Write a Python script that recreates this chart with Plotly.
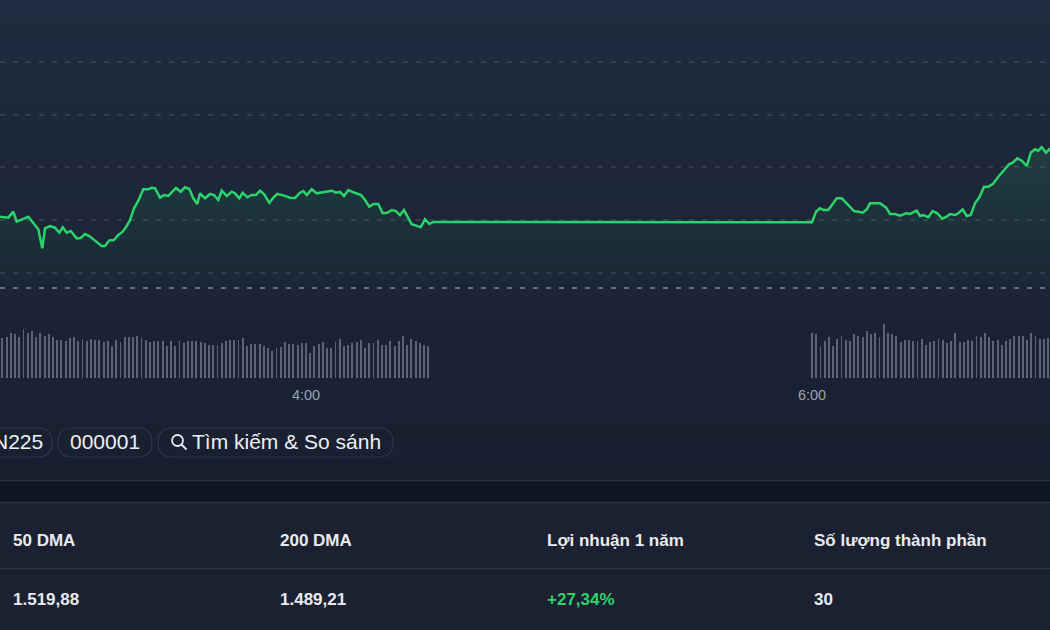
import plotly.graph_objects as go
import pandas as pd

DAY = "2024-06-14 "

# ---- price line (time, index level) ----
morning_times = ["02:47:26","02:49:24","02:50:35","02:51:24","02:54:09","02:56:31","02:57:28","02:58:07","02:59:17","03:00:29",
    "03:01:30","03:02:19","03:03:15","03:04:12","03:05:37","03:06:34","03:07:35","03:08:37","03:09:58","03:11:33",
    "03:12:20","03:13:21","03:14:28","03:15:29","03:16:32","03:17:29","03:18:16","03:19:13","03:20:14","03:21:25",
    "03:22:36","03:23:25","03:24:11","03:25:23","03:26:20","03:27:21","03:29:10","03:30:17","03:31:19","03:32:20",
    "03:33:16","03:34:13","03:34:52","03:36:03","03:37:14","03:38:11","03:39:12","03:40:01","03:41:12","03:42:23",
    "03:43:10","03:44:11","03:44:59","03:46:05","03:47:07","03:48:08","03:49:05","03:50:02","03:51:18","03:52:15",
    "03:53:11","03:54:37","03:56:13","03:57:23","03:58:35","03:59:22","04:00:10","04:01:21","04:02:32","04:03:43",
    "04:04:55","04:06:05","04:07:07","04:08:04","04:09:01","04:10:02","04:11:13","04:13:03","04:14:00","04:15:01",
    "04:15:58","04:17:09","04:18:12","04:19:17","04:20:19","04:21:20","04:22:17","04:23:14","04:25:04","04:27:12",
    "04:28:13","04:29:14","04:30:11"]
morning_prices = [1505.32,1505.23,1505.80,1504.85,1505.32,1504.13,1502.32,1504.22,1504.44,1504.28,
    1503.80,1504.32,1503.80,1503.97,1503.27,1503.30,1503.68,1503.49,1503.05,1502.54,
    1502.54,1503.08,1503.11,1503.59,1503.90,1504.44,1505.01,1506.12,1506.84,1507.92,
    1507.92,1508.07,1508.02,1507.13,1507.38,1507.29,1508.05,1507.69,1508.11,1507.95,
    1507.07,1506.53,1507.54,1507.07,1507.48,1507.38,1506.91,1507.79,1507.29,1507.69,
    1507.54,1507.07,1507.60,1507.16,1507.38,1507.38,1507.79,1507.48,1506.65,1507.13,
    1507.48,1507.35,1507.13,1507.10,1507.60,1507.76,1507.38,1507.92,1507.54,1507.60,
    1507.67,1507.79,1507.60,1507.67,1507.29,1507.86,1507.64,1507.38,1506.91,1506.27,
    1506.53,1506.53,1505.65,1505.70,1505.96,1505.86,1505.48,1505.96,1504.60,1504.32,
    1505.08,1504.63,1504.82]

afternoon_times = ["06:00:00","06:00:57","06:01:54","06:02:41","06:03:52","06:05:52","06:07:02","06:07:50","06:09:58","06:10:59",
    "06:12:01","06:12:58","06:13:45","06:16:08","06:17:33","06:18:30","06:19:41","06:20:52","06:22:17","06:23:14",
    "06:24:50","06:25:37","06:26:23","06:27:35","06:28:37","06:29:43","06:30:54","06:31:56","06:32:43","06:33:55",
    "06:34:41","06:35:44","06:36:41","06:37:38","06:38:39","06:39:40","06:40:47","06:41:49","06:42:51","06:44:11",
    "06:45:22","06:46:47","06:47:35","06:48:41","06:49:44","06:50:55","06:51:52","06:52:53","06:53:40","06:54:28",
    "06:55:29","06:56:26"]
afternoon_prices = [1504.80,1505.80,1506.12,1505.96,1505.96,1507.07,1507.07,1506.75,1505.86,1505.80,
    1505.70,1506.02,1506.59,1506.59,1506.21,1505.58,1505.58,1505.42,1505.65,1505.58,
    1505.89,1505.39,1505.48,1505.27,1505.86,1505.65,1505.13,1505.32,1505.58,1505.48,
    1505.65,1506.02,1505.39,1505.48,1506.59,1507.16,1508.17,1508.17,1508.43,1509.12,
    1509.69,1510.32,1510.45,1510.86,1510.64,1510.13,1511.39,1511.72,1511.58,1511.91,
    1511.39,1511.81]

previous_close = 1498.55

# ---- volume (thousand shares, one bar per minute) ----
vol_morning_start = "02:48"
vol_morning = [400,410,450,440,410,490,450,473,410,450,417,440,410,383,383,373,400,410,367,390,
    373,393,383,383,360,367,317,383,357,410,410,410,423,400,383,357,373,373,373,323,
    367,323,367,350,367,367,367,357,350,333,333,333,350,367,377,377,377,400,323,340,
    343,343,317,300,267,300,307,357,340,340,333,350,350,250,317,340,357,300,300,357,
    390,323,333,350,357,377,300,350,350,383,333,333,367,323,367,423,333,390,367,350,
    333,317]
vol_afternoon_start = "06:00"
vol_afternoon = [450,440,317,367,407,317,393,423,383,367,440,417,410,473,440,450,410,543,450,440,
    417,357,383,383,373,373,393,327,357,367,393,383,350,373,450,357,360,383,367,423,
    410,450,410,373,383,327,367,393,423,423,423,383,450,423,390,390,400]

tick_vals = ["04:00", "06:00"]
tick_text = ["4:00", "6:00"]

# ---- stats table ----
stat_labels = ["50 DMA", "200 DMA", "Lợi nhuận 1 năm", "Số lượng thành phần"]
stat_values = ["1.519,88", "1.489,21", "+27,34%", "30"]
pill_labels = ["N225", "000001", "Tìm kiếm & So sánh"]

W, H = 1050, 630
def px(x): return x / W
def py(y): return 1 - y / H

line_x = [DAY + t for t in morning_times + afternoon_times]
line_y = morning_prices + afternoon_prices
vol_x = list(pd.date_range(DAY + vol_morning_start, periods=len(vol_morning), freq="1min")) + \
        list(pd.date_range(DAY + vol_afternoon_start, periods=len(vol_afternoon), freq="1min"))
vol_y = vol_morning + vol_afternoon

fig = go.Figure()
fig.add_trace(go.Scatter(
    x=line_x, y=line_y, mode="lines",
    line=dict(color="#2bd46b", width=2.5),
    fill="tozeroy",
    fillgradient=dict(type="vertical",
                      colorscale=[[0, "rgba(43,212,107,0)"], [1, "rgba(43,212,107,0.13)"]],
                      start=1497.4, stop=1512),
    hoverinfo="skip", yaxis="y", xaxis="x"))
fig.add_trace(go.Bar(
    x=vol_x, y=vol_y, marker=dict(color="#5a6477", line=dict(width=0)),
    width=27000, hoverinfo="skip", yaxis="y2", xaxis="x"))

shapes = []
# background gradient
top = (31, 43, 62); bot = (24, 32, 48)
n = 24
for i in range(n):
    f = i / (n - 1)
    c = tuple(round(top[k] + (bot[k] - top[k]) * f) for k in range(3))
    shapes.append(dict(type="rect", xref="paper", yref="paper", x0=0, x1=1,
                       y0=py(480 * (i + 1) / n), y1=py(480 * i / n),
                       fillcolor="rgb(%d,%d,%d)" % c, line=dict(width=0), layer="below"))
# dark band and table
shapes.append(dict(type="rect", xref="paper", yref="paper", x0=0, x1=1, y0=py(502), y1=py(480),
                   fillcolor="#101623", line=dict(width=0), layer="below"))
shapes.append(dict(type="rect", xref="paper", yref="paper", x0=0, x1=1, y0=0, y1=py(502),
                   fillcolor="#1b2131", line=dict(width=0), layer="below"))
for yy in (480.5, 502.5, 568.5):
    shapes.append(dict(type="line", xref="paper", yref="paper", x0=0, x1=1, y0=py(yy), y1=py(yy),
                       line=dict(color="#2b3445", width=1.5), layer="below"))
# previous close
shapes.append(dict(type="line", xref="paper", yref="y", x0=0, x1=1, y0=previous_close, y1=previous_close,
                   line=dict(color="rgba(150,160,178,0.6)", width=2, dash="5px,8px")))

# pills
def pill(x0, x1, y0, y1):
    r = (y1 - y0) / 2
    pts = [("M", x0 + r, y0), ("L", x1 - r, y0), ("Q", x1, y0, x1, y0 + r), ("Q", x1, y1, x1 - r, y1),
           ("L", x0 + r, y1), ("Q", x0, y1, x0, y0 + r), ("Q", x0, y0, x0 + r, y0)]
    s = ""
    for p in pts:
        cmd = p[0]; coords = p[1:]
        s += cmd + " " + " ".join("%f,%f" % (px(coords[j]), py(coords[j + 1])) for j in range(0, len(coords), 2)) + " "
    return s + "Z"

pill_boxes = [(-17, 52), (58, 152), (158, 393)]
for (a, b) in pill_boxes:
    shapes.append(dict(type="path", xref="paper", yref="paper", path=pill(a, b, 428, 457),
                       line=dict(color="#2d3749", width=1.2), fillcolor="rgba(0,0,0,0)"))
# search icon
shapes.append(dict(type="circle", xref="paper", yref="paper", x0=px(172), x1=px(183), y0=py(446), y1=py(435),
                   line=dict(color="#e8eaee", width=1.8)))
shapes.append(dict(type="line", xref="paper", yref="paper", x0=px(181.5), x1=px(186.5), y0=py(444.5), y1=py(449.5),
                   line=dict(color="#e8eaee", width=2)))

annotations = []
pill_font = dict(family="Liberation Sans, Arial", size=21, color="#eef0f3")
annotations.append(dict(x=px(17.5), y=py(442), xref="paper", yref="paper", text=pill_labels[0],
                        showarrow=False, font=pill_font, xanchor="center", yanchor="middle"))
annotations.append(dict(x=px(105), y=py(442), xref="paper", yref="paper", text=pill_labels[1],
                        showarrow=False, font=pill_font, xanchor="center", yanchor="middle"))
annotations.append(dict(x=px(190), y=py(442), xref="paper", yref="paper", text=pill_labels[2],
                        showarrow=False, font=pill_font, xanchor="left", yanchor="middle"))

col_x = [11, 278, 545, 812]
tbl_font = dict(family="Liberation Sans, Arial", size=17, color="#e9ebef", weight="bold")
for i in range(4):
    annotations.append(dict(x=px(col_x[i]), y=py(540), xref="paper", yref="paper", text=stat_labels[i],
                            showarrow=False, font=tbl_font, xanchor="left", yanchor="middle"))
    vf = dict(tbl_font)
    if stat_values[i].startswith("+"):
        vf["color"] = "#2bd46b"
    annotations.append(dict(x=px(col_x[i]), y=py(599), xref="paper", yref="paper", text=stat_values[i],
                            showarrow=False, font=vf, xanchor="left", yanchor="middle"))

fig.update_layout(
    width=W, height=H, margin=dict(l=0, r=0, t=0, b=0),
    paper_bgcolor="#1b2131", plot_bgcolor="rgba(0,0,0,0)",
    showlegend=False, hovermode=False, bargap=0,
    shapes=shapes, annotations=annotations,
    xaxis=dict(type="date", range=[DAY + "02:47:26", DAY + "06:56:26"], anchor="y2",
               showgrid=False, zeroline=False, showline=False, ticks="",
               tickvals=[DAY + t for t in tick_vals], ticktext=tick_text,
               tickfont=dict(family="Liberation Sans, Arial", size=14.5, color="#9aa2b0"),
               ticklabelstandoff=6, fixedrange=True),
    yaxis=dict(domain=[py(300), 1], range=[1497.42, 1525.88],
               tickvals=[1500, 1505, 1510, 1515, 1520], showticklabels=False,
               showgrid=True, gridcolor="rgba(255,255,255,0.1)", gridwidth=2, griddash="5px,8px",
               zeroline=False, showline=False, ticks="", fixedrange=True),
    yaxis2=dict(domain=[py(378), py(300)], range=[0, 780], showgrid=False, showticklabels=False,
                zeroline=False, showline=False, ticks="", fixedrange=True),
    font=dict(family="Liberation Sans, Arial"),
)

fig.write_html("out.html", config={"displayModeBar": False, "staticPlot": True})
